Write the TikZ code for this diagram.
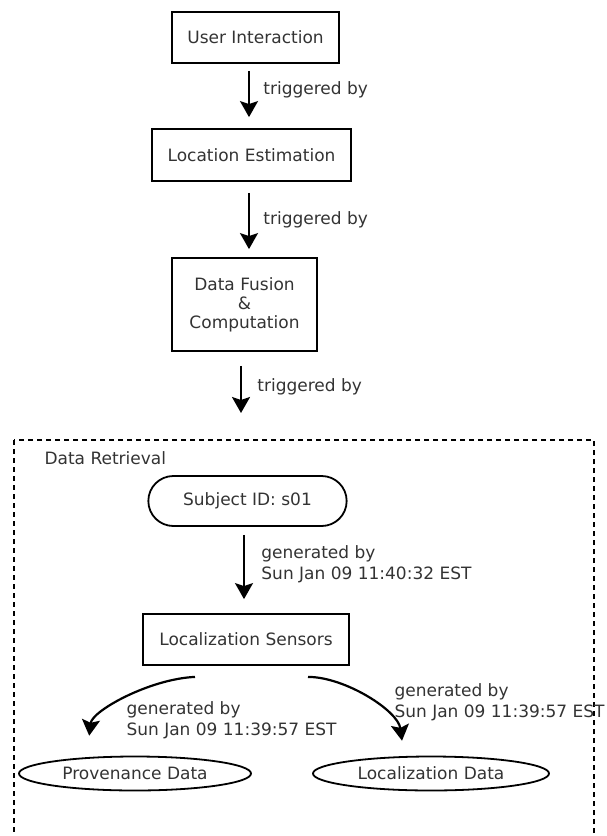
\documentclass[tikz,border=0pt]{standalone}
\usepackage{fontspec}
\setmainfont{DejaVu Sans}
\usepackage{tikz}
\usetikzlibrary{arrows.meta,shapes.geometric,shapes.misc,positioning}

\begin{document}
\begin{tikzpicture}[x=1pt,y=-1pt,>={Stealth[length=16pt,width=18pt,inset=3pt]},font=\fontsize{17}{21}\selectfont]
		\tikzstyle{activity}=[rectangle, line width=1.8pt, draw=black, text=black!80, align=center]
		\tikzstyle{entity}=[ellipse, line width=1.8pt, draw=black, text=black!80, inner sep=0pt]
		\tikzstyle{subject}=[rounded rectangle, line width=1.8pt, draw=black, text=black!80]
		\tikzstyle{rel}=[->, line width=2.2pt]
		\tikzstyle{lbl}=[text=black!80, align=left]

		\useasboundingbox (0,0) rectangle (607,836);

		% activity chain
		\node [activity, minimum width=167pt, minimum height=51pt] (ui) at (255.5,37.5) {User Interaction};
		\node [activity, minimum width=199pt, minimum height=52pt] (loc) at (251.5,155) {Location Estimation};
		\node [activity, minimum width=145pt, minimum height=93pt, font=\fontsize{17}{19}\selectfont] (fusion) at (244.5,304.5) {Data Fusion\\\&\\Computation};

		\draw [rel, shorten <=7pt, shorten >=11pt] ([xshift=-6.5pt]ui.south) -- ([xshift=-6.5pt]ui.south |- loc.north)
			node [lbl, right=10pt, pos=.4] {triggered by};
		\draw [rel, shorten <=11pt, shorten >=8pt] ([xshift=-2.5pt]loc.south) -- ([xshift=-2.5pt]loc.south |- fusion.north)
			node [lbl, right=10pt, pos=.5] {triggered by};

		% data retrieval cluster
		\draw [line width=1.8pt, dash pattern=on 5pt off 4pt] (14,440) rectangle (594,900);
		\node [lbl, anchor=west] (dr) at (41,458) {Data Retrieval};
		\coordinate (retrieval) at (241,440);

		\draw [rel, shorten <=14pt, shorten >=27pt] ([xshift=-3.5pt]fusion.south) -- (retrieval)
			node [lbl, right=12pt, pos=.4] {triggered by};

		\node [subject, minimum width=205pt, minimum height=50pt] (subj) at (247.5,501) {Subject ID: s01};
		\node [activity, minimum width=206pt, minimum height=51pt] (sens) at (246,639.5) {Localization Sensors};
		\node [entity, minimum width=232pt, minimum height=34pt] (prov) at (135,773.5) {Provenance Data};
		\node [entity, minimum width=236pt, minimum height=34pt] (locd) at (431,773.5) {Localization Data};

		\draw [rel, shorten <=8pt, shorten >=14pt] ([xshift=-3.5pt]subj.south) -- ([xshift=-3.5pt]subj.south |- sens.north)
			node [lbl, right=13pt, pos=.43] {generated by\\Sun Jan 09 11:40:32 EST};

		\draw [rel, shorten >=20pt] ([shift={(-51,11)}]sens.south) .. controls +(-45,2) and +(5,-45) .. ([xshift=-48pt]prov.north);
		\draw [rel, shorten >=15pt] ([shift={(62,11)}]sens.south) .. controls +(37,0) and +(-6,-45) .. ([xshift=-27pt]locd.north);
		\node [lbl, anchor=west] (gen1) at (123,720) {generated by\\Sun Jan 09 11:39:57 EST};
		\node [lbl, anchor=west] (gen2) at (391,702.5) {generated by\\Sun Jan 09 11:39:57 EST};
	\end{tikzpicture}
\end{document}
